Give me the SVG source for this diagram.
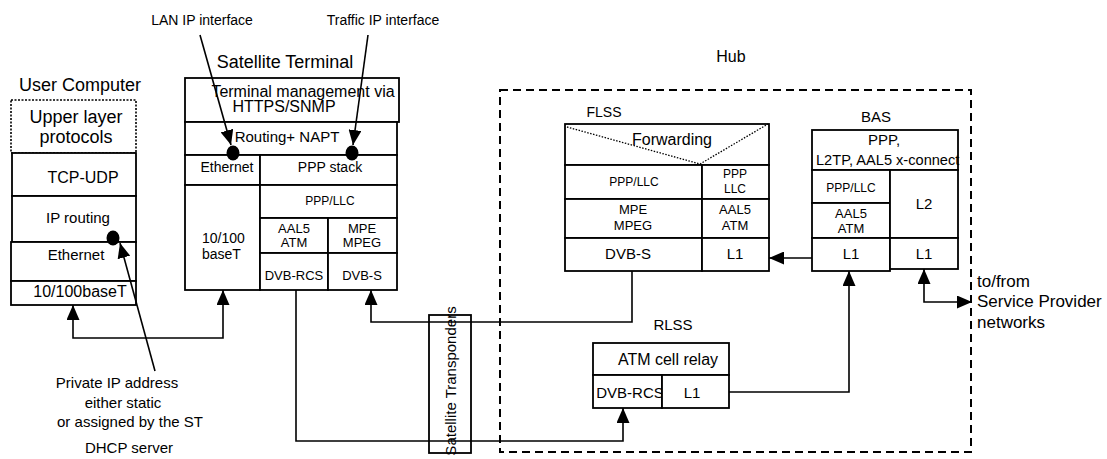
<svg xmlns="http://www.w3.org/2000/svg" width="1107" height="459" viewBox="0 0 1107 459">
<style>
text{font-family:"Liberation Sans",Arial,sans-serif;fill:#000;text-anchor:middle}
.b{fill:#fff;stroke:#000;stroke-width:1.8}
.l{fill:none;stroke:#000;stroke-width:1.6}
.s12{font-size:12px}.s13{font-size:13px}.s14{font-size:14px}.s15{font-size:15px}.s16{font-size:16px}.s17{font-size:17px}.s18{font-size:18px}
</style>
<defs>
<marker id="ah" markerWidth="15" markerHeight="13" refX="15" refY="6.5" orient="auto-start-reverse" markerUnits="userSpaceOnUse">
<path d="M0,0 L15,6.5 L0,13 Z" fill="#000"/>
</marker>
</defs>
<rect width="1107" height="459" fill="#fff"/>

<g id="hub">
<rect x="500" y="90" width="471" height="362" fill="none" stroke="#000" stroke-width="2" stroke-dasharray="8,5"/>
<text x="731" y="62" class="s16">Hub</text>
</g>

<g id="user-computer">
<text x="80" y="91" class="s18">User Computer</text>
<rect x="11" y="100" width="125" height="53" fill="#fff" stroke="#000" stroke-width="1.6" stroke-dasharray="2,1.5"/>
<text x="76" y="123" class="s18">Upper layer</text>
<text x="76" y="143" class="s18">protocols</text>
<rect class="b" x="12" y="153" width="124" height="43"/>
<text x="83" y="183" class="s16">TCP-UDP</text>
<rect class="b" x="12" y="196" width="124" height="46"/>
<text x="78" y="223" class="s15">IP routing</text>
<rect class="b" x="11" y="242" width="125" height="39"/>
<text x="76" y="260" class="s15">Ethernet</text>
<rect class="b" x="11" y="281" width="125" height="24"/>
<text x="80" y="297" class="s16">10/100baseT</text>
<ellipse cx="113" cy="238" rx="6.5" ry="7.5" fill="#000"/>
</g>

<g id="satellite-terminal">
<text x="285" y="68" class="s18">Satellite Terminal</text>
<rect class="b" x="185" y="78" width="214" height="44"/>
<text x="303" y="97" class="s16">Terminal management via</text>
<text x="284" y="112" class="s16">HTTPS/SNMP</text>
<rect class="b" x="185" y="122" width="212" height="33"/>
<text x="287" y="142" class="s15">Routing+ NAPT</text>
<rect class="b" x="185" y="155" width="75" height="30"/>
<text x="227" y="172" class="s14">Ethernet</text>
<rect class="b" x="260" y="155" width="137" height="30"/>
<text x="330" y="172" class="s14">PPP stack</text>
<rect class="b" x="185" y="185" width="75" height="105"/>
<text x="202" y="243" class="s14" style="text-anchor:start">10/100</text>
<text x="202" y="259" class="s14" style="text-anchor:start">baseT</text>
<rect class="b" x="260" y="185" width="137" height="33"/>
<text x="330" y="205" class="s12">PPP/LLC</text>
<rect class="b" x="260" y="218" width="68" height="35"/>
<text x="294" y="233" class="s13">AAL5</text>
<text x="294" y="247" class="s13">ATM</text>
<rect class="b" x="328" y="218" width="69" height="35"/>
<text x="362" y="233" class="s13">MPE</text>
<text x="362" y="247" class="s13">MPEG</text>
<rect class="b" x="260" y="253" width="68" height="37"/>
<text x="294" y="280" class="s13">DVB-RCS</text>
<rect class="b" x="328" y="253" width="69" height="37"/>
<text x="362" y="280" class="s13">DVB-S</text>
<ellipse cx="233" cy="153" rx="6.5" ry="7.5" fill="#000"/>
<ellipse cx="352" cy="153" rx="6.5" ry="7.5" fill="#000"/>
</g>

<g id="flss">
<text x="604" y="117" class="s14">FLSS</text>
<rect class="b" x="565" y="124" width="204" height="41"/>
<path d="M567,127 L700,164 L768,124" fill="none" stroke="#000" stroke-width="1.3" stroke-dasharray="1.5,1.5"/>
<text x="672" y="145" class="s16">Forwarding</text>
<rect class="b" x="565" y="165" width="137" height="34"/>
<text x="634" y="186" class="s12">PPP/LLC</text>
<rect class="b" x="702" y="165" width="67" height="34"/>
<text x="735" y="178" class="s12">PPP</text>
<text x="735" y="193" class="s12">LLC</text>
<rect class="b" x="565" y="199" width="137" height="39"/>
<text x="633" y="214" class="s13">MPE</text>
<text x="633" y="230" class="s13">MPEG</text>
<rect class="b" x="702" y="199" width="67" height="39"/>
<text x="735" y="214" class="s13">AAL5</text>
<text x="735" y="230" class="s13">ATM</text>
<rect class="b" x="565" y="238" width="137" height="33"/>
<text x="628" y="259" class="s15">DVB-S</text>
<rect class="b" x="702" y="238" width="67" height="33"/>
<text x="735" y="259" class="s15">L1</text>
</g>

<g id="bas">
<text x="876" y="122" class="s15">BAS</text>
<rect class="b" x="812" y="130" width="146" height="40"/>
<text x="884" y="145" class="s15">PPP,</text>
<text x="816" y="165" style="text-anchor:start;font-size:14.6px">L2TP, AAL5 x-connect</text>
<rect class="b" x="812" y="170" width="78" height="33"/>
<text x="851" y="192" class="s12">PPP/LLC</text>
<rect class="b" x="812" y="203" width="78" height="35"/>
<text x="851" y="218" class="s13">AAL5</text>
<text x="851" y="233" class="s13">ATM</text>
<rect class="b" x="890" y="170" width="68" height="68"/>
<text x="924" y="209" class="s15">L2</text>
<rect class="b" x="812" y="238" width="78" height="33"/>
<text x="851" y="259" class="s15">L1</text>
<rect class="b" x="890" y="238" width="68" height="31"/>
<text x="924" y="259" class="s15">L1</text>
</g>

<g id="rlss">
<text x="673" y="330" class="s15">RLSS</text>
<rect class="b" x="593" y="343" width="136" height="32"/>
<text x="668" y="365" class="s16">ATM cell relay</text>
<rect class="b" x="593" y="375" width="69" height="33"/>
<text x="630" y="398" class="s15">DVB-RCS</text>
<rect class="b" x="662" y="375" width="67" height="33"/>
<text x="692" y="398" class="s15">L1</text>
</g>

<g id="satellite-transponders">
<rect x="429" y="315" width="42" height="138" fill="none" stroke="#000" stroke-width="1.8"/>
</g>

<g id="connectors">
<path class="l" d="M73,305 V338 H223 V290" marker-start="url(#ah)" marker-end="url(#ah)"/>
<path class="l" d="M632,271 V322 H371 V290" marker-end="url(#ah)"/>
<path class="l" d="M296,290 V441 H623 V408" marker-end="url(#ah)"/>
<path class="l" d="M812,258 H769" marker-end="url(#ah)"/>
<path class="l" d="M729,392 H849 V271" marker-end="url(#ah)"/>
<path class="l" d="M924,269 V302 H972" marker-start="url(#ah)" marker-end="url(#ah)"/>
<path class="l" d="M155,371 L120,243" marker-end="url(#ah)"/>
<path class="l" d="M200,35 L231,145" marker-end="url(#ah)"/>
<path class="l" d="M368,35 L353,145" marker-end="url(#ah)"/>
</g>

<g id="labels">
<text transform="translate(456,381) rotate(-90)" class="s15">Satellite Transponders</text>
<text x="202" y="25" class="s14">LAN IP interface</text>
<text x="383" y="25" class="s14">Traffic IP interface</text>
<text x="977" y="287" class="s17" style="text-anchor:start">to/from</text>
<text x="977" y="307" class="s17" style="text-anchor:start">Service Provider</text>
<text x="977" y="328" class="s17" style="text-anchor:start">networks</text>
<text x="117" y="388" class="s15">Private IP address</text>
<text x="123" y="408" class="s15">either static</text>
<text x="130" y="427" class="s15">or assigned by the ST</text>
<text x="129" y="453" class="s15">DHCP server</text>
</g>
</svg>
